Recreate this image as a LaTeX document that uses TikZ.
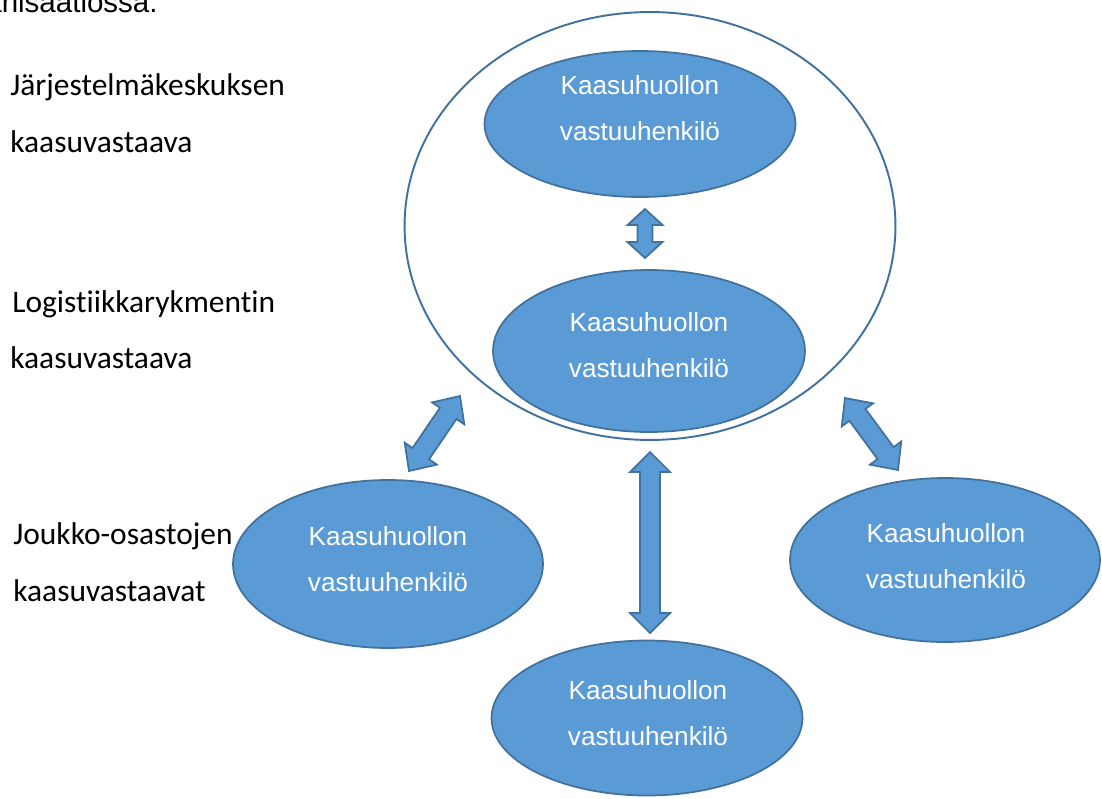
\documentclass[tikz,border=0pt]{standalone}
\usepackage{fontspec}
\setmainfont{Liberation Sans}
\newfontfamily\lvlfont[Ligatures=NoCommon]{Carlito}
\usepackage{tikz}
\usetikzlibrary{calc,shapes.geometric}
\definecolor{rolefill}{HTML}{5B9BD5}
\definecolor{roleedge}{HTML}{41719C}
\tikzset{
  role/.style={ellipse, fill=rolefill, draw=roleedge, line width=1pt, inner sep=0pt},
  roletext/.style={anchor=base, inner sep=0pt, text=white, font=\fontsize{14.9}{18}\selectfont},
  lvl/.style={anchor=base west, inner sep=0pt, font=\lvlfont\fontsize{17.9}{22}\selectfont},
  ring/.style={ellipse, draw=roleedge, line width=1.1pt, inner sep=0pt},
  fat/.style={fill=rolefill, draw=roleedge, line width=1pt, line join=miter},
}
% block arrow between two named points: shaft half, head half, head length
\newcommand{\fatarrow}[5]{%
  \path ($(#1)!#5!(#2)$) coordinate (fa) ($(#2)!#5!(#1)$) coordinate (fb);
  \draw[fat] (#1) -- ($(fa)!#4!90:(#2)$) -- ($(fa)!#3!90:(#2)$)
    -- ($(fb)!#3!-90:(#1)$) -- ($(fb)!#4!-90:(#1)$) -- (#2)
    -- ($(fb)!#4!90:(#1)$) -- ($(fb)!#3!90:(#1)$)
    -- ($(fa)!#3!-90:(#2)$) -- ($(fa)!#4!-90:(#2)$) -- cycle;
}

\begin{document}
\begin{tikzpicture}[x=0.02cm, y=-0.02cm]
  \useasboundingbox (0,0) rectangle (1102,798);
  \clip (0,0) rectangle (1102,798);

  % cut-off line of the page above
  \node[anchor=base east, inner sep=0pt, font=\fontsize{16.8}{20}\selectfont] (org) at (158,12) {organisaatiossa.};

  % level labels
  \node[lvl] (jk1) at (10,95) {Järjestelmäkeskuksen};
  \node[lvl] (jk2) at (10,152) {kaasuvastaava};
  \node[lvl] (lr1) at (12,312) {Logistiikkarykmentin};
  \node[lvl] (lr2) at (10,368) {kaasuvastaava};
  \node[lvl] (jo1) at (13,544) {Joukko-osastojen};
  \node[lvl] (jo2) at (13,601) {kaasuvastaavat};

  % outer ring round the two upper levels
  \node[ring, minimum width=9.82cm, minimum height=8.56cm] (big) at (650,226) {};

  % ellipses
  \node[role, minimum width=6.22cm, minimum height=2.92cm] (top) at (640,124) {};
  \node[role, minimum width=6.24cm, minimum height=3.24cm] (mid) at (649,351) {};
  \node[role, minimum width=6.2cm, minimum height=3.36cm] (lft) at (388,564) {};
  \node[role, minimum width=6.2cm, minimum height=3.28cm] (rgt) at (945,560) {};
  \node[role, minimum width=6.22cm, minimum height=3.1cm] (bot) at (647,718) {};

  \node[roletext] (top1) at (640,94) {Kaasuhuollon};
  \node[roletext] (top2) at (640,140) {vastuuhenkilö};
  \node[roletext] (mid1) at (649,331) {Kaasuhuollon};
  \node[roletext] (mid2) at (649,377) {vastuuhenkilö};
  \node[roletext] (lft1) at (388,545) {Kaasuhuollon};
  \node[roletext] (lft2) at (388,591) {vastuuhenkilö};
  \node[roletext] (rgt1) at (946,542) {Kaasuhuollon};
  \node[roletext] (rgt2) at (946,588) {vastuuhenkilö};
  \node[roletext] (bot1) at (648,699) {Kaasuhuollon};
  \node[roletext] (bot2) at (648,745) {vastuuhenkilö};

  % arrow ends
  \coordinate (a1) at (645,209);  % below top ellipse
  \coordinate (a2) at (645,258);  % above middle ellipse
  \coordinate (b1) at (650,452);  % below ring
  \coordinate (b2) at (650,633);  % above bottom ellipse
  \coordinate (c1) at (460,396);  % ring, left
  \coordinate (c2) at (409,471);  % left ellipse
  \coordinate (d1) at (845,398);  % ring, right
  \coordinate (d2) at (898,470);  % right ellipse

  \fatarrow{a1}{a2}{0.15cm}{0.35cm}{0.32cm}
  \fatarrow{b1}{b2}{0.2cm}{0.4cm}{0.4cm}
  \fatarrow{c1}{c2}{0.2cm}{0.39cm}{0.42cm}
  \fatarrow{d1}{d2}{0.2cm}{0.39cm}{0.42cm}
\end{tikzpicture}
\end{document}
